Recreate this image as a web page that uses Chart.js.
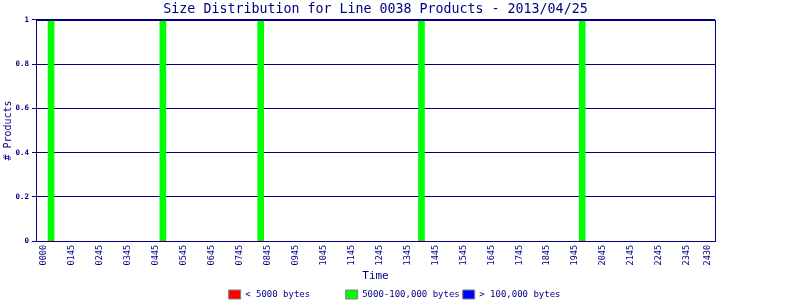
<!DOCTYPE html>
<html>
<head>
<meta charset="utf-8">
<script src="https://cdn.jsdelivr.net/npm/chart.js@4/dist/chart.umd.min.js"></script>
<style>
  html, body { margin: 0; padding: 0; background: #fff; }
  #wrap { width: 800px; height: 300px; }
</style>
</head>
<body>
<div id="wrap"><canvas id="chart" width="800" height="300"></canvas></div>
<script>
// 15 minute bins; only these bins had products
const productBins = [1, 17, 31, 54, 77];
const smallCounts = [0, 0, 0, 0, 0];   // < 5000 bytes
const mediumCounts = [1, 1, 1, 1, 1];  // 5000-100,000 bytes
const largeCounts = [0, 0, 0, 0, 0];   // > 100,000 bytes

// labels printed under the axis, and the bin each one sits on
const tickLabels = ["0000", "0145", "0245", "0345", "0445", "0545", "0645", "0745",
  "0845", "0945", "1045", "1145", "1245", "1345", "1445", "1545", "1645", "1745",
  "1845", "1945", "2045", "2145", "2245", "2345", "2430"];
const tickBins = [0, 4, 8, 12, 16, 20, 24, 28, 32, 36, 40, 44, 48, 52, 56, 60, 64,
  68, 72, 76, 80, 84, 88, 92, 95];
const yTicks = [0, 0.2, 0.4, 0.6, 0.8, 1];

const navy = "#000080";
const mono = "'DejaVu Sans Mono', monospace";

function points(values) {
  return productBins.map((b, i) => ({ x: b, y: values[i] }));
}

const frame = {
  id: "frame",
  afterDraw(chart) {
    const a = chart.chartArea, ctx = chart.ctx;
    ctx.save();
    ctx.strokeStyle = navy;
    ctx.lineWidth = 1;
    ctx.strokeRect(Math.round(a.left) + 0.5, Math.round(a.top) + 0.5,
      Math.round(a.right - a.left), Math.round(a.bottom - a.top));
    ctx.restore();
  }
};

new Chart(document.getElementById("chart"), {
  type: "bar",
  data: {
    datasets: [
      { label: "< 5000 bytes      ", data: points(smallCounts), backgroundColor: "#ff0000" },
      { label: "5000-100,000 bytes", data: points(mediumCounts), backgroundColor: "#00ff00" },
      { label: "> 100,000 bytes  ", data: points(largeCounts), backgroundColor: "#0000ff" }
    ]
  },
  options: {
    responsive: false,
    animation: false,
    layout: { padding: { left: 0, right: 0, top: 0, bottom: -9 } },
    datasets: { bar: { barThickness: 6, borderWidth: 0 } },
    plugins: {
      title: {
        display: true,
        fullSize: false,
        text: "Size Distribution for Line 0038 Products - 2013/04/25",
        color: navy,
        font: { family: mono, size: 13.3, weight: "normal", lineHeight: 1.2 },
        padding: { top: 2, bottom: 2 }
      },
      legend: {
        position: "bottom",
        labels: {
          color: navy,
          font: { family: mono, size: 9 },
          boxWidth: 12,
          boxHeight: 9,
          padding: 3,
          generateLabels(chart) {
            const items = Chart.defaults.plugins.legend.labels.generateLabels(chart);
            items.forEach(it => { it.strokeStyle = "#808080"; it.lineWidth = 1; });
            return items;
          }
        }
      },
      tooltip: { enabled: false }
    },
    scales: {
      x: {
        type: "linear",
        stacked: true,
        offset: false,
        min: -1.15,
        max: 96,
        afterBuildTicks(scale) {
          scale.ticks = tickBins.map(v => ({ value: v }));
        },
        afterFit(scale) { scale.height = 46; },
        ticks: {
          autoSkip: false,
          minRotation: 90,
          maxRotation: 90,
          padding: -4,
          color: navy,
          font: { family: mono, size: 8.5 },
          callback: (v, i) => tickLabels[i]
        },
        grid: { display: false },
        border: { color: navy },
        title: {
          display: true,
          text: "Time",
          color: navy,
          font: { family: mono, size: 11 },
          padding: { top: 0, bottom: 4 }
        }
      },
      y: {
        stacked: true,
        min: 0,
        max: 1,
        afterBuildTicks(scale) {
          scale.ticks = yTicks.map(v => ({ value: v }));
        },
        afterFit(scale) { scale.width = 36; },
        ticks: {
          color: navy,
          padding: 3,
          font: { family: mono, size: 7.5, weight: "bold" },
          callback: v => String(v)
        },
        grid: { color: navy, tickLength: 4, drawTicks: true },
        border: { color: navy },
        title: {
          display: true,
          text: "# Products",
          color: navy,
          font: { family: mono, size: 10 },
          padding: { top: 2, bottom: 0 }
        }
      },
      // empty right-hand gutter so the legend still centres on the page
      gutter: {
        type: "linear",
        position: "right",
        display: true,
        afterFit(scale) { scale.width = 85; },
        ticks: { display: false },
        grid: { display: false, drawTicks: false },
        border: { display: false }
      }
    }
  },
  plugins: [frame]
});
</script>
</body>
</html>
